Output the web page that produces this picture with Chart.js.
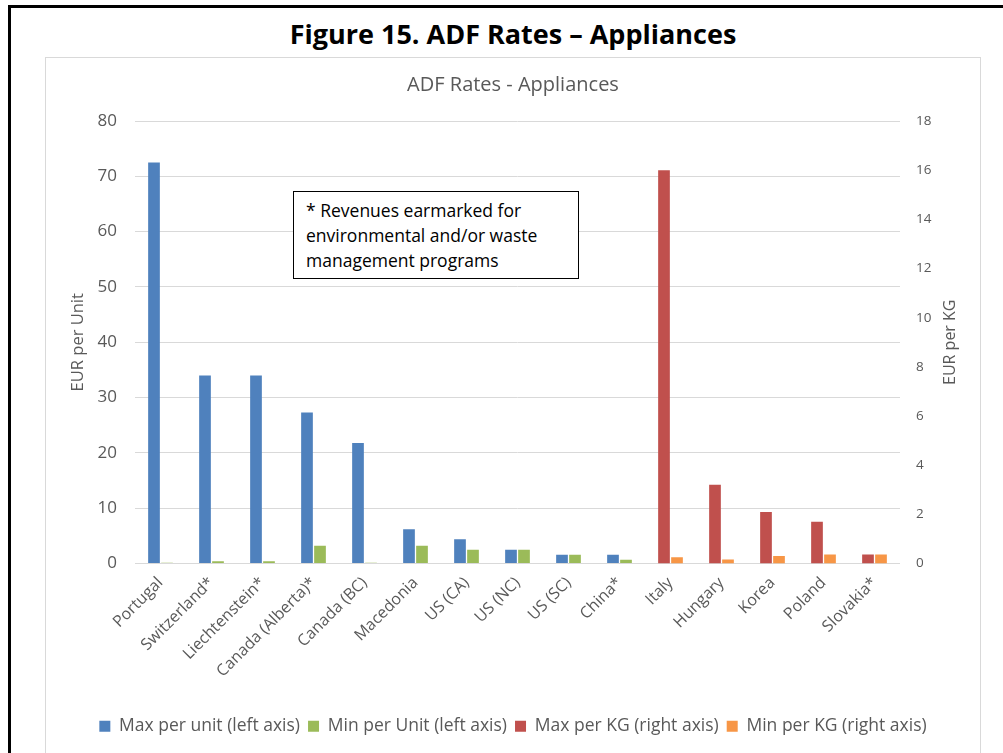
<!DOCTYPE html>
<html>
<head>
<meta charset="utf-8">
<title>ADF Rates - Appliances</title>
<script src="https://cdn.jsdelivr.net/npm/chart.js@4.4.1/dist/chart.umd.min.js"></script>
<style>
    html, body { margin: 0; padding: 0; background: #fff; }
    body { width: 1003px; height: 753px; position: relative; overflow: hidden; font-family: "Open Sans", "Liberation Sans", sans-serif; }
    #frame { position: absolute; left: 8px; top: 5px; width: 1000px; height: 760px; border-left: 3px solid #000; border-top: 3px solid #000; }
    #fig-title { position: absolute; left: 0; width: 1026px; top: 16px; text-align: center; font-weight: bold; font-size: 27px; line-height: 36px; color: #000; }
    #chart-box { position: absolute; left: 45px; top: 57px; width: 934px; height: 700px; border: 1px solid #d9d9d9; border-bottom: none; }
    #chart-box canvas { position: absolute; left: 0; top: 0; }
    #note { position: absolute; left: 293px; top: 191px; width: 260px; height: 72px; border: 1.5px solid #000; background: #fff;
            padding: 6px 12px 8px 12px; font-size: 17.5px; line-height: 25px; color: #000; white-space: nowrap; }
</style>
</head>
<body>
<div id="frame"></div>
<div id="fig-title">Figure 15. ADF Rates – Appliances</div>
<div id="chart-box"><canvas id="adfChart" width="934" height="696"></canvas></div>
<div id="note">* Revenues earmarked for<br>environmental and/or waste<br>management programs</div>

<script>
// ==========================================
// 1. DATA
// ==========================================
const categories = ['Portugal', 'Switzerland*', 'Liechtenstein*', 'Canada (Alberta)*', 'Canada (BC)',
                    'Macedonia', 'US (CA)', 'US (NC)', 'US (SC)', 'China*',
                    'Italy', 'Hungary', 'Korea', 'Poland', 'Slovakia*'];

// EUR per unit (left axis)
const maxPerUnit = [72.5, 34.0, 34.0, 27.3, 21.8, 6.2, 4.4, 2.5, 1.6, 1.6, null, null, null, null, null];
const minPerUnit = [0.15, 0.4, 0.4, 3.2, 0.15, 3.2, 2.5, 2.5, 1.6, 0.7, null, null, null, null, null];

// EUR per KG (right axis)
const maxPerKg = [null, null, null, null, null, null, null, null, null, null, 16.0, 3.2, 2.1, 1.7, 0.37];
const minPerKg = [null, null, null, null, null, null, null, null, null, null, 0.25, 0.16, 0.31, 0.37, 0.37];

const leftTicks = [0, 10, 20, 30, 40, 50, 60, 70, 80];
const rightTicks = [0, 2, 4, 6, 8, 10, 12, 14, 16, 18];

const seriesNames = ['Max per unit (left axis)', 'Min per Unit (left axis)', 'Max per KG (right axis)', 'Min per KG (right axis)'];
const seriesColors = ['#4f81bd', '#9bbb59', '#c0504d', '#f79646'];

// ==========================================
// 2. CHART
// ==========================================
const GREY_TEXT = '#595959';
const FONT = '"Open Sans", "Liberation Sans", sans-serif';

function makeSet(i, data, axis) {
    return {
        label: seriesNames[i],
        data: data,
        yAxisID: axis,
        backgroundColor: seriesColors[i],
        borderWidth: 0,
        categoryPercentage: 0.51,
        barPercentage: 0.9,
        skipNull: true
    };
}

// right axis title reads bottom-to-top like the left one (Chart.js would turn it the other way)
const rightTitlePlugin = {
    id: 'rightTitle',
    afterDraw(chart) {
        const s = chart.scales.yR;
        const ctx = chart.ctx;
        ctx.save();
        ctx.translate(s.right - 30, (s.top + s.bottom) / 2);
        ctx.rotate(-Math.PI / 2);
        ctx.fillStyle = GREY_TEXT;
        ctx.font = '16px ' + FONT;
        ctx.textAlign = 'center';
        ctx.textBaseline = 'middle';
        ctx.fillText('EUR per KG', 0, 0);
        ctx.restore();
    }
};

new Chart(document.getElementById('adfChart').getContext('2d'), {
    type: 'bar',
    data: {
        labels: categories,
        datasets: [
            makeSet(0, maxPerUnit, 'yL'),
            makeSet(1, minPerUnit, 'yL'),
            makeSet(2, maxPerKg, 'yR'),
            makeSet(3, minPerKg, 'yR')
        ]
    },
    plugins: [rightTitlePlugin],
    options: {
        responsive: false,
        animation: false,
        layout: { padding: { left: 0, right: 0, top: 0, bottom: 9 } },
        plugins: {
            title: {
                display: true,
                text: 'ADF Rates - Appliances',
                color: GREY_TEXT,
                font: { family: FONT, size: 20, weight: 'normal' },
                padding: { top: 15, bottom: 24 }
            },
            legend: {
                position: 'bottom',
                labels: {
                    color: GREY_TEXT,
                    font: { family: FONT, size: 17.5 },
                    boxWidth: 11, boxHeight: 11,
                    padding: 8
                }
            },
            tooltip: { enabled: false }
        },
        scales: {
            x: {
                grid: { display: false },
                border: { display: false },
                ticks: {
                    color: GREY_TEXT,
                    font: { family: FONT, size: 16 },
                    autoSkip: false,
                    minRotation: 45, maxRotation: 45,
                    padding: 2
                },
                afterFit: (scale) => { scale.height = 146; }
            },
            yL: {
                position: 'left',
                min: 0, max: 80,
                afterBuildTicks: (scale) => { scale.ticks = leftTicks.map(v => ({ value: v })); },
                grid: { color: '#d9d9d9', lineWidth: 1, drawTicks: false },
                border: { display: false },
                ticks: { color: GREY_TEXT, font: { family: FONT, size: 17 }, padding: 18 },
                title: { display: true, text: 'EUR per Unit', color: GREY_TEXT, font: { family: FONT, size: 16.5 }, padding: { top: 22, bottom: 0 } },
                afterFit: (scale) => { scale.width = 89; }
            },
            yR: {
                position: 'right',
                min: 0, max: 18,
                afterBuildTicks: (scale) => { scale.ticks = rightTicks.map(v => ({ value: v })); },
                grid: { display: false, drawTicks: false },
                border: { display: false },
                ticks: { color: GREY_TEXT, font: { family: FONT, size: 13.5 }, padding: 16 },
                afterFit: (scale) => { scale.width = 80; }
            }
        }
    }
});
</script>
</body>
</html>
